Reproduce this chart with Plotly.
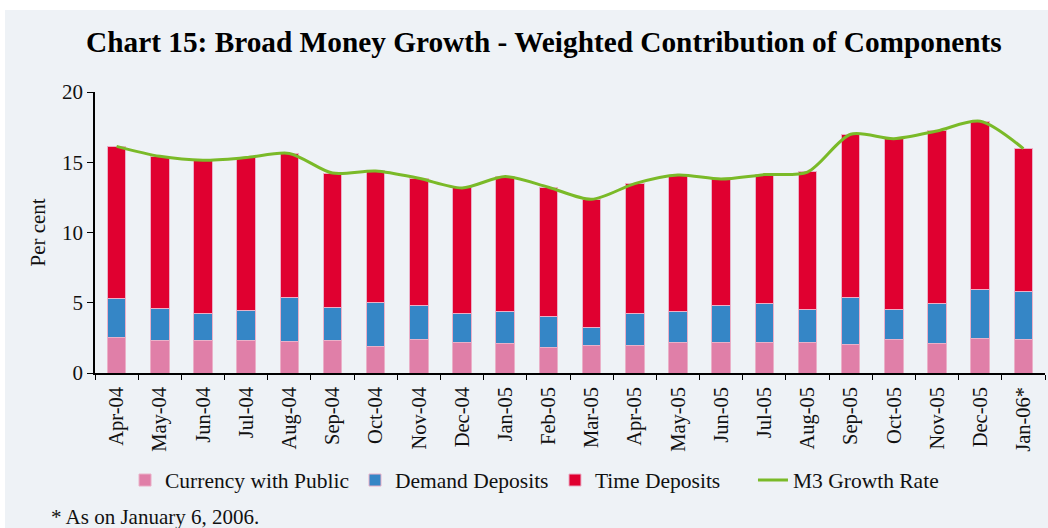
import plotly.graph_objects as go

months = ["Apr-04", "May-04", "Jun-04", "Jul-04", "Aug-04", "Sep-04", "Oct-04", "Nov-04",
          "Dec-04", "Jan-05", "Feb-05", "Mar-05", "Apr-05", "May-05", "Jun-05", "Jul-05",
          "Aug-05", "Sep-05", "Oct-05", "Nov-05", "Dec-05", "Jan-06*"]

currency = [2.52, 2.33, 2.31, 2.28, 2.26, 2.31, 1.92, 2.40, 2.14, 2.11, 1.85,
            1.99, 1.99, 2.18, 2.18, 2.14, 2.16, 2.04, 2.35, 2.09, 2.45, 2.40]
demand = [2.77, 2.23, 1.92, 2.18, 3.13, 2.34, 3.11, 2.42, 2.11, 2.30, 2.14,
          1.26, 2.26, 2.23, 2.64, 2.83, 2.33, 3.35, 2.19, 2.88, 3.46, 3.41]
time_dep = [10.84, 10.86, 10.91, 10.87, 10.24, 9.58, 9.35, 9.04, 8.92, 9.57, 9.23,
            9.11, 9.23, 9.68, 8.99, 9.15, 9.84, 11.60, 12.14, 12.26, 12.01, 10.16]
m3_growth = [16.13, 15.42, 15.14, 15.33, 15.63, 14.23, 14.38, 13.86, 13.17, 13.98, 13.22,
             12.36, 13.48, 14.09, 13.81, 14.12, 14.30, 16.99, 16.68, 17.23, 17.92, 15.97]

y_ticks = [0, 5, 10, 15, 20]

SERIF = "Liberation Serif"
BG = "#eef2f6"
TXT = "#111111"

fig = go.Figure()
fig.add_trace(go.Bar(x=months, y=currency, name="Currency with Public", legend="legend",
                     marker=dict(color="#e07fa8", line=dict(color="#eab0c8", width=1))))
fig.add_trace(go.Bar(x=months, y=demand, name="Demand Deposits", legend="legend2",
                     marker=dict(color="#3586c6", line=dict(color="#eab0c8", width=1))))
fig.add_trace(go.Bar(x=months, y=time_dep, name="Time Deposits", legend="legend3",
                     marker=dict(color="#e00030", line=dict(color="#eab0c8", width=1))))
fig.add_trace(go.Scatter(x=months, y=m3_growth, name="M3 Growth Rate", mode="lines",
                         legend="legend4",
                         line=dict(color="#7aba28", width=3, shape="spline", smoothing=0.8)))


def leg(x):
    return dict(orientation="h", x=x, xanchor="left", y=-0.381, yanchor="middle",
                bgcolor="rgba(0,0,0,0)", font=dict(family=SERIF, size=21.5, color=TXT))


fig.update_layout(
    width=1048, height=528,
    barmode="stack", bargap=0.57,
    paper_bgcolor="white", plot_bgcolor="rgba(0,0,0,0)",
    margin=dict(l=95, r=3, t=92, b=155, autoexpand=False),
    font=dict(family=SERIF, size=20, color=TXT),
    title=dict(text="<b>Chart 15: Broad Money Growth - Weighted Contribution of Components</b>",
               x=0.519, xanchor="center", y=0.921, yanchor="middle",
               font=dict(family=SERIF, size=29.3, color="#000000")),
    xaxis=dict(type="category", range=[-0.5, 21.5], tickangle=-90, showline=True,
               linecolor="#000000", linewidth=1.5, ticks="outside", ticklen=5,
               tickcolor="#000000", tickson="boundaries", showgrid=False, automargin=False,
               ticklabelstandoff=4,
               tickfont=dict(family=SERIF, size=20.5, color=TXT)),
    yaxis=dict(range=[0, 20], tickvals=y_ticks, showline=True, linecolor="#000000",
               linewidth=1.5, ticks="outside", ticklen=6, tickcolor="#000000",
               showgrid=False, zeroline=False, automargin=False,
               tickfont=dict(family=SERIF, size=21, color=TXT)),
    legend=leg(0.0316),
    legend2=leg(0.2737),
    legend3=leg(0.4842),
    legend4=leg(0.6926),
    showlegend=True,
    shapes=[dict(type="rect", xref="paper", yref="paper", x0=-0.0947, x1=1.0032,
                 y0=-0.552, y1=1.292, fillcolor=BG, line=dict(width=0), layer="below")],
    annotations=[
        dict(text="Per cent", xref="paper", yref="paper", x=-0.061, y=0.5,
             textangle=-90, showarrow=False, xanchor="center", yanchor="middle",
             font=dict(family=SERIF, size=21, color=TXT)),
        dict(text="* As on January 6, 2006.", xref="paper", yref="paper",
             x=-0.048, y=-0.512, xanchor="left", yanchor="middle", showarrow=False,
             font=dict(family=SERIF, size=21, color=TXT)),
    ],
)

fig.write_html("out.html", config={"displayModeBar": False},
               post_script="document.body.style.margin='0';")
